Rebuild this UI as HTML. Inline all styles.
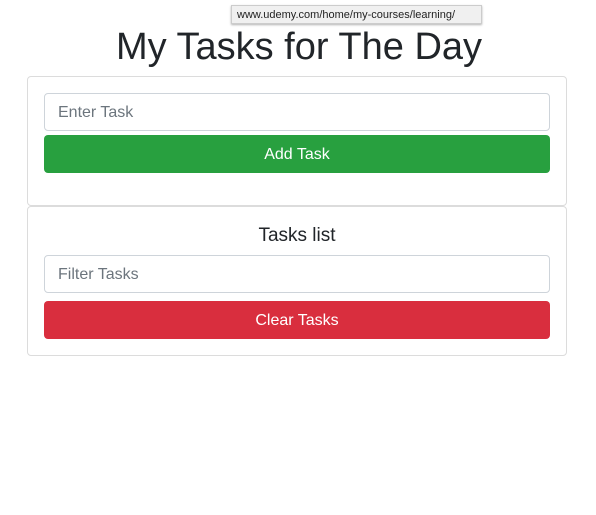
<!DOCTYPE html>
<html><head><style>
body{margin:0;width:596px;height:515px;background:#fff;font-family:"Liberation Sans",sans-serif;position:relative;overflow:hidden}
.a{position:absolute;box-sizing:border-box}
.card{border:1px solid #dcdcdc;border-radius:4px;left:27px;width:540px}
.inp{left:44px;width:506px;height:38px;border:1px solid #ced4da;border-radius:4px;color:#6c757d;font-size:16px;padding-left:13px;line-height:38px}
.btn{left:44px;width:506px;height:38px;border-radius:4px;color:#fff;font-size:16px;text-align:center;line-height:40px}
</style></head><body>
<div class="a" style="left:0;width:596px;top:22px;text-align:center;font-size:38px;color:#212529;line-height:50px;padding-left:2px">My Tasks for The Day</div>
<div class="a" style="left:231px;top:5px;width:251px;height:19px;background:#f0f0f0;border:1px solid #ccc;box-shadow:0 1px 2px rgba(0,0,0,.3);font-size:11px;line-height:18px;padding-left:5px;color:#222">www.udemy.com/home/my-courses/learning/</div>
<div class="a card" style="top:76px;height:130px"></div>
<div class="a inp" style="top:93px">Enter Task</div>
<div class="a btn" style="top:135px;background:#28a03f">Add Task</div>
<div class="a card" style="top:206px;height:150px"></div>
<div class="a" style="left:27px;width:540px;top:225px;text-align:center;font-size:19px;color:#212529">Tasks list</div>
<div class="a inp" style="top:255px">Filter Tasks</div>
<div class="a btn" style="top:301px;background:#d92e3e">Clear Tasks</div>
</body></html>
